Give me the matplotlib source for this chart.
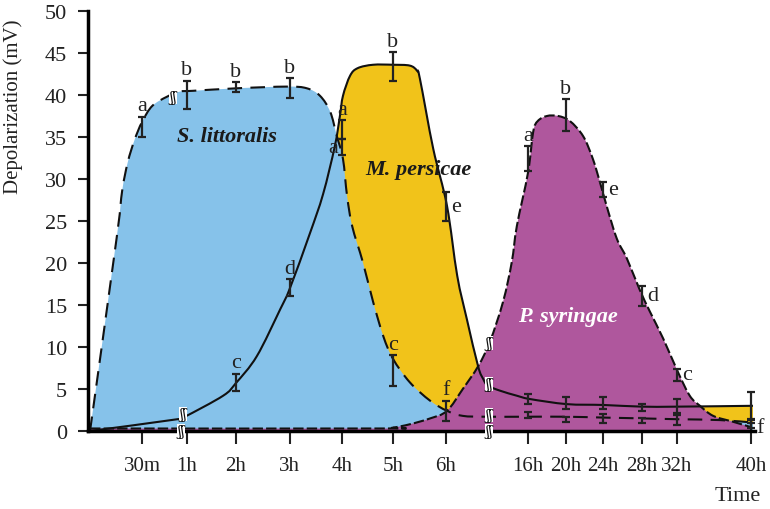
import numpy as np
import matplotlib
matplotlib.use('Agg')
import matplotlib.pyplot as plt
from matplotlib.path import Path
from matplotlib.patches import PathPatch

plt.rcParams['font.family'] = ['Liberation Serif', 'DejaVu Serif']

# time points (category axis, uneven spacing as in the figure)
time_labels = ['30m', '1h', '2h', '3h', '4h', '5h', '6h', '16h', '20h', '24h', '28h', '32h', '40h']
tick_pos = [1.02, 1.90, 2.86, 3.92, 4.94, 5.94, 6.98, 8.59, 9.33, 10.06, 10.82, 11.51, 12.96]

# means / errors / letters at each time point
lit_mean = [36.2, 40.0, 40.9, 40.8, 35.9, 7.2, 2.4, 1.9, 1.4, 1.5, 1.2, 1.3, 0.8]
lit_err = [1.2, 1.7, 0.6, 1.2, 1.1, 1.8, 1.2, 0.4, 0.3, 0.5, 0.3, 0.6, 0.5]
lit_letters = ['a', 'b', 'b', 'b', 'a', 'c', 'f', '', '', '', '', '', '']

per_mean = [np.nan, np.nan, 5.8, 17.1, 33.8, 43.4, 26.7, 3.8, 3.3, 3.3, 2.8, 3.0, 3.0]
per_err = [np.nan, np.nan, 1.0, 1.0, 1.0, 1.7, 1.7, 0.6, 0.7, 0.7, 0.4, 0.8, 1.6]
per_letters = ['', '', 'c', 'd', 'a', 'b', 'e', '', '', '', '', '', '']

syr_mean = [np.nan] * 7 + [32.4, 37.6, 28.8, 16.1, 6.7, 0.4]
syr_err = [np.nan] * 7 + [1.5, 1.9, 0.9, 1.2, 0.7, 0.6]
syr_letters = [''] * 7 + ['a', 'b', 'e', 'd', 'c', 'f']

# outline of each response curve
lit_x = [0, 0.52, 0.63, 0.74, 0.87, 1.02, 1.22, 1.51, 1.76, 2.02, 2.88, 3.86, 4.25, 4.51, 4.71,
         4.84, 4.96, 5.04, 5.14, 5.35, 5.55, 5.75, 5.94, 6.27, 6.67, 7.0, 7.31, 7.76, 8.57, 9.33,
         10.06, 10.82, 11.53, 12.35, 13.0]
lit_y = [0, 22.9, 28.6, 32.0, 34.6, 36.8, 38.7, 39.8, 40.4, 40.5, 40.8, 41.0, 40.8, 39.9, 38.0,
         35.1, 32.4, 28.0, 24.4, 20.1, 15.4, 11.3, 8.6, 5.8, 3.6, 2.4, 1.8, 1.7, 1.7, 1.7,
         1.6, 1.5, 1.4, 1.3, 1.0]

per_x = [0, 1.71, 1.86, 2.61, 2.86, 3.27, 3.73, 3.92, 4.31, 4.57, 4.80, 4.90, 4.96, 5.10, 5.25,
         5.55, 5.94, 6.27, 6.41, 6.47, 6.73, 7.0, 7.2, 7.39, 7.61, 7.71, 7.80, 8.04, 8.37, 8.63,
         9.35, 10.06, 10.82, 11.53, 13.0]
per_y = [0, 1.4, 1.7, 4.2, 5.7, 8.9, 14.5, 17.0, 23.5, 28.2, 33.9, 37.5, 39.9, 42.3, 43.2,
         43.6, 43.6, 43.5, 42.9, 41.9, 33.6, 26.8, 18.5, 13.3, 7.7, 6.2, 5.4, 4.8, 4.2, 3.8,
         3.2, 3.1, 2.9, 2.9, 3.0]

syr_x = [0, 5.69, 5.94, 6.27, 6.67, 7.0, 7.31, 7.61, 7.84, 8.10, 8.27, 8.37, 8.59, 8.69, 8.78,
         8.96, 9.18, 9.41, 9.67, 9.86, 10.0, 10.14, 10.33, 10.53, 10.78, 10.98, 11.24, 11.53,
         11.76, 11.96, 12.22, 12.61, 12.94]
syr_y = [0.3, 0.3, 0.4, 0.8, 1.5, 2.4, 5.0, 7.7, 10.6, 15.4, 20.1, 24.4, 30.8, 35.6, 36.9,
         37.5, 37.5, 36.9, 35.1, 32.4, 29.6, 26.6, 22.9, 20.5, 16.8, 14.2, 11.0, 7.0,
         4.2, 3.0, 1.8, 1.1, 0.5]


def smooth_path(xs, ys, close=False):
    # catmull-rom through the read points, drawn as cubic beziers
    pts = np.column_stack([xs, ys]).astype(float)
    n = len(pts)
    verts = [pts[0]]
    codes = [Path.MOVETO]
    for i in range(n - 1):
        p0 = pts[max(i - 1, 0)]
        p1 = pts[i]
        p2 = pts[i + 1]
        p3 = pts[min(i + 2, n - 1)]
        verts += [p1 + (p2 - p0) / 6, p2 - (p3 - p1) / 6, p2]
        codes += [Path.CURVE4] * 3
    if close:
        verts += [(xs[-1], 0), (xs[0], 0), (xs[0], 0)]
        codes += [Path.LINETO, Path.LINETO, Path.CLOSEPOLY]
    return Path(verts, codes)


fig = plt.figure(figsize=(7.7, 5.1), dpi=100)
ax = fig.add_axes([88 / 770, 1 - 432 / 510, (755 - 88) / 770, (432 - 12) / 510])

blue = '#86C2EA'
yellow = '#F1C31A'
purple = '#AF579D'

ax.add_patch(PathPatch(smooth_path(per_x, per_y, True), fc=yellow, ec='none', zorder=1))
ax.add_patch(PathPatch(smooth_path(lit_x, lit_y, True), fc=blue, ec='none', zorder=2))
ax.add_patch(PathPatch(smooth_path(syr_x, syr_y, True), fc=purple, ec='none', zorder=3))

ax.add_patch(PathPatch(smooth_path(lit_x, lit_y), fc='none', ec='#111111', lw=1.5,
                       ls=(0, (7, 4)), zorder=5))
ax.add_patch(PathPatch(smooth_path(per_x, per_y), fc='none', ec='#111111', lw=1.5, zorder=5))
ax.add_patch(PathPatch(smooth_path(syr_x, syr_y), fc='none', ec='#111111', lw=1.5,
                       ls=(0, (5, 1.5)), zorder=5))

# error bars + letters
label_side = {
    'lit': ['top'] * 13,
    'per': ['top', 'top', 'top', 'top', 'left', 'top', 'right'] + ['top'] * 6,
    'syr': ['top'] * 7 + ['top', 'top', 'right', 'right', 'right', 'right'],
}
series = [('lit', lit_mean, lit_err, lit_letters),
          ('per', per_mean, per_err, per_letters),
          ('syr', syr_mean, syr_err, syr_letters)]
for key, mean, err, letters in series:
    ax.errorbar(tick_pos, mean, yerr=err, fmt='none', ecolor='#222222', elinewidth=1.6,
                capsize=3, capthick=1.6, zorder=6)
    for xp, m, e, lt, side in zip(tick_pos, mean, err, letters, label_side[key]):
        if not lt:
            continue
        if side == 'top':
            ax.annotate(lt, (xp, m + e), xytext=(0, 1), textcoords='offset points',
                        ha='center', va='bottom', fontsize=16, color='#222222', zorder=7)
        elif side == 'right':
            ax.annotate(lt, (xp, m), xytext=(4, 0), textcoords='offset points',
                        ha='left', va='center', fontsize=16, color='#222222', zorder=7)
        else:
            ax.annotate(lt, (xp, m), xytext=(-3, 0), textcoords='offset points',
                        ha='right', va='center', fontsize=16, color='#222222', zorder=7)

# axis break marks
breaks = [(1.63, 39.8), (1.82, 2.0), (1.78, 0), (7.82, 10.5), (7.82, 5.6), (7.82, 1.9), (7.82, 0)]
for bx, by in breaks:
    ax.text(bx, by, 'ʃʃ', ha='center', va='center', fontsize=10, color='#111111',
            family=['DejaVu Serif'], zorder=10, clip_on=False,
            bbox=dict(fc='white', ec='none', pad=0.2))

ax.text(2.69, 35.1, 'S. littoralis', ha='center', va='center', fontsize=16,
        style='italic', weight='bold', color='#1a1a1a', zorder=7)
ax.text(6.43, 31.2, 'M. persicae', ha='center', va='center', fontsize=16,
        style='italic', weight='bold', color='#1a1a1a', zorder=7)
ax.text(9.37, 13.7, 'P. syringae', ha='center', va='center', fontsize=16,
        style='italic', weight='bold', color='white', zorder=7)

ax.set_xlim(-0.04, 13.04)
ax.set_ylim(0, 50)
ax.set_yticks(range(0, 51, 5))
ax.set_xticks(tick_pos, time_labels)
ax.tick_params(axis='x', length=9, width=1.5, pad=9, labelsize=15, color='#222222',
               labelcolor='#222222')
ax.tick_params(axis='y', length=7, width=1.5, pad=8, labelsize=16, color='#222222',
               labelcolor='#222222')
for s in ['top', 'right']:
    ax.spines[s].set_visible(False)
for s in ['left', 'bottom']:
    ax.spines[s].set_linewidth(2.5)
    ax.spines[s].set_zorder(9)
ax.patch.set_alpha(0)

fig.text(13 / 770, 1 - 107 / 510, 'Depolarization (mV)', rotation=90, ha='center',
         va='center', fontsize=15, color='#222222')
fig.text(738 / 770, 1 - 497 / 510, 'Time', ha='center', va='center', fontsize=16,
         color='#222222')

fig.savefig('out.png', dpi=100)
